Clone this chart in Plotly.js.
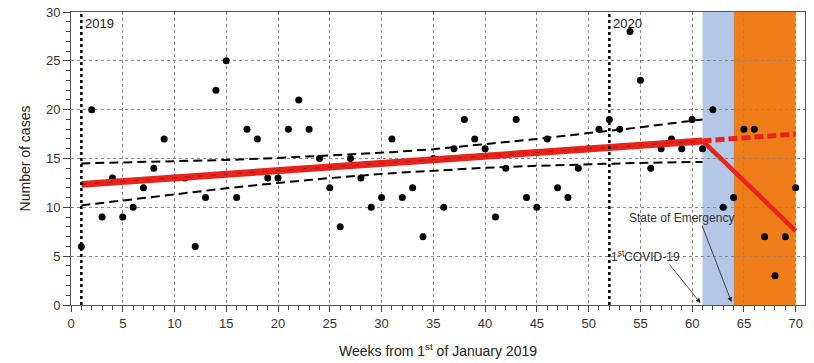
<!DOCTYPE html>
<html>
<head>
<meta charset="utf-8">
<script src="https://cdn.plot.ly/plotly-3.0.1.min.js"></script>
<style>html,body{margin:0;padding:0;background:#fff;}#chart{width:814px;height:363px;}</style>
</head>
<body>
<div id="chart"></div>
<script>
// ---- data ----
const weeks = [1,2,3,4,5,6,7,8,9,10,11,12,13,14,15,16,17,18,19,20,21,22,23,24,25,26,27,28,29,30,31,32,33,34,35,36,37,38,39,40,41,42,43,44,45,46,47,48,49,50,51,52,53,54,55,56,57,58,59,60,61,62,63,64,65,66,67,68,69,70];
const cases = [6,20,9,13,9,10,12,14,17,13,13,6,11,22,25,11,18,17,13,13,18,21,18,15,12,8,15,13,10,11,17,11,12,7,15,10,16,19,17,16,9,14,19,11,10,17,12,11,14,16,18,19,18,28,23,14,16,17,16,19,16,20,10,11,18,18,7,3,7,12];

// fitted trend (pre-COVID), its projection, and observed post-COVID trend
const fitWeeks = [1, 61];
const fitValues = [12.35, 16.8];
const projWeeks = [61, 70];
const projValues = [16.8, 17.5];
const dropWeeks = [61, 70];
const dropValues = [16.8, 7.6];

// 95% confidence band of the fit
const ciWeeks = [1, 5, 10, 15, 20, 25, 31, 35, 40, 45, 50, 55, 61];
const ciUpper = [14.5, 14.6, 14.7, 14.85, 15.05, 15.3, 15.65, 15.95, 16.45, 17.0, 17.6, 18.2, 19.0];
const ciLower = [10.2, 10.7, 11.35, 11.95, 12.5, 13.0, 13.5, 13.75, 14.05, 14.25, 14.4, 14.55, 14.65];

// year markers
const yearWeeks = [1, 52];
const yearLabels = ['2019', '2020'];

// shaded periods
const periodStart = [61, 64];
const periodEnd = [64, 70];
const periodColors = ['#b4c7e7', '#ef7d1a'];

// event annotations
const eventLabels = ['State of Emergency', '1<sup>st</sup>COVID-19'];
const eventWeeks = [64, 61];

const FONT = 'Liberation Sans, Arial, sans-serif';

const traces = [
  {x: weeks, y: cases, mode: 'markers', marker: {color: '#000', size: 7}},
  {x: ciWeeks, y: ciUpper, mode: 'lines', line: {color: '#000', width: 2, dash: '9px,5px'}, hoverinfo: 'skip'},
  {x: ciWeeks, y: ciLower, mode: 'lines', line: {color: '#000', width: 2, dash: '9px,5px'}, hoverinfo: 'skip'},
  {x: projWeeks, y: projValues, mode: 'lines', line: {color: '#e8231c', width: 5, dash: '9px,4px'}},
  {x: fitWeeks, y: fitValues, mode: 'lines', line: {color: '#e8231c', width: 7}},
  {x: fitWeeks, y: fitValues, mode: 'lines', line: {color: 'rgba(90,0,0,0.45)', width: 1, dash: '5px,8px'}},
  {x: dropWeeks, y: dropValues, mode: 'lines', line: {color: '#e8231c', width: 4.5}}
];

const shapes = [];
for (let i = 0; i < periodStart.length; i++) {
  shapes.push({type: 'rect', layer: 'below', xref: 'x', yref: 'paper', x0: periodStart[i], x1: periodEnd[i], y0: 0, y1: 1,
    fillcolor: periodColors[i], line: {width: 0}});
}
for (let i = 0; i < yearWeeks.length; i++) {
  shapes.push({type: 'line', layer: 'above', xref: 'x', yref: 'paper', x0: yearWeeks[i], x1: yearWeeks[i], y0: 0, y1: 1,
    line: {color: '#000', width: 2.5, dash: 'dot'}});
}

const annotations = [];
for (let i = 0; i < yearWeeks.length; i++) {
  annotations.push({x: yearWeeks[i] + 0.2, y: 28.8, xref: 'x', yref: 'y', text: yearLabels[i], showarrow: false,
    xanchor: 'left', yanchor: 'middle', font: {family: FONT, size: 13, color: '#222'}});
}
// event labels with arrows
annotations.push({x: 59.0, y: 8.87, xref: 'x', yref: 'y', text: eventLabels[0], showarrow: false,
  font: {family: FONT, size: 12, color: '#333'}});
annotations.push({x: eventWeeks[0] - 0.2, y: 0.3, xref: 'x', yref: 'y', ax: 60.9, ay: 8.3, axref: 'x', ayref: 'y',
  text: '', showarrow: true, arrowhead: 2, arrowsize: 1.2, arrowwidth: 0.8, arrowcolor: '#222', standoff: 0, startstandoff: 0});
annotations.push({x: 55.5, y: 5.0, xref: 'x', yref: 'y', text: eventLabels[1], showarrow: false,
  font: {family: FONT, size: 12, color: '#333'}});
annotations.push({x: eventWeeks[1] - 0.2, y: 0.2, xref: 'x', yref: 'y', ax: 57.7, ay: 4.3, axref: 'x', ayref: 'y',
  text: '', showarrow: true, arrowhead: 2, arrowsize: 1.2, arrowwidth: 0.8, arrowcolor: '#222', standoff: 0, startstandoff: 0});

const layout = {
  width: 814, height: 363,
  margin: {l: 71, r: 9, t: 12, b: 58},
  paper_bgcolor: '#fff', plot_bgcolor: '#fff',
  showlegend: false,
  font: {family: FONT, color: '#333'},
  xaxis: {
    range: [0, 70.9], tick0: 0, dtick: 5, ticks: 'outside', ticklen: 6, tickcolor: '#444', tickwidth: 1,
    showline: true, linecolor: '#555', linewidth: 1, mirror: true, zeroline: false,
    showgrid: true, gridcolor: '#888', griddash: 'dot', gridwidth: 1,
    minor: {dtick: 1, ticks: 'outside', ticklen: 4, tickcolor: '#444', showgrid: false},
    tickfont: {family: FONT, size: 13, color: '#333'},
    title: {text: 'Weeks from 1<sup>st</sup> of January 2019', font: {family: FONT, size: 14, color: '#222'}, standoff: 16}
  },
  yaxis: {
    range: [0, 30], tick0: 0, dtick: 5, ticks: 'outside', ticklen: 7, tickcolor: '#444', tickwidth: 1,
    showline: true, linecolor: '#555', linewidth: 1, mirror: true, zeroline: false,
    showgrid: true, gridcolor: '#888', griddash: 'dot', gridwidth: 1,
    minor: {dtick: 1, ticks: 'outside', ticklen: 4, tickcolor: '#444', showgrid: false},
    tickfont: {family: FONT, size: 13, color: '#333'},
    title: {text: 'Number of cases', font: {family: FONT, size: 14, color: '#222'}, standoff: 12}
  },
  shapes: shapes,
  annotations: annotations
};

Plotly.newPlot('chart', traces, layout, {displayModeBar: false, staticPlot: true});
</script>
</body>
</html>
